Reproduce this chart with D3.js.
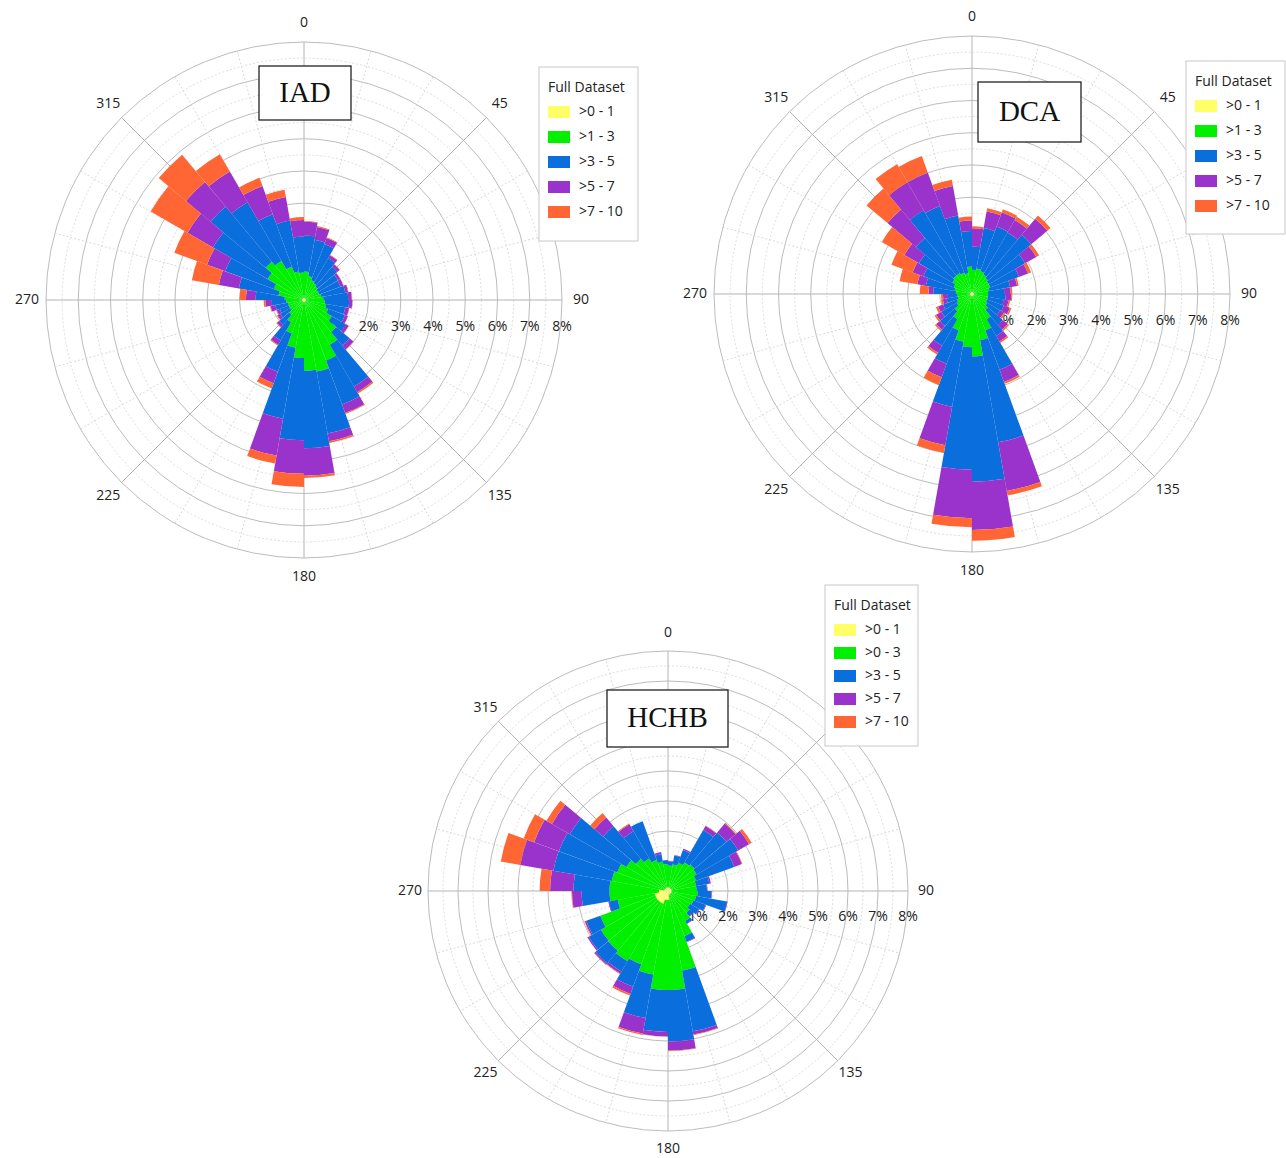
<!DOCTYPE html>
<html>
<head>
<meta charset="utf-8">
<script src="https://cdn.jsdelivr.net/npm/d3@7"></script>
<style>
  body { margin: 0; background: #fff; }
  text { font-family: "Open Sans", "Noto Sans", sans-serif; }
</style>
</head>
<body>
<svg id="chart" width="1286" height="1158"></svg>
<script>
// 36 direction bins of 10 degrees, bin i covers [10*i, 10*i+10]
const directions = d3.range(0, 360, 10);
const speedKeys = ["y", "g", "b", "p", "o"];
const speedColors = ["#FFFF66", "#00F000", "#0A6FDC", "#9933CC", "#FF6633"];
const legendLabels = [">0 - 1", ">1 - 3", ">3 - 5", ">5 - 7", ">7 - 10"];
const legendLabelsHCHB = [">0 - 1", ">0 - 3", ">3 - 5", ">5 - 7", ">7 - 10"];
const pctTicks = [1, 2, 3, 4, 5, 6, 7, 8];
const angleTicks = [0, 45, 90, 135, 180, 225, 270, 315];

// IAD frequencies (%) per speed class
const iadY = Array(36).fill(0.06);
const iadG = [.82,.69,.59,.54,.49,.44,.44,.49,.54,.59,.64,.74,.94,1.24,1.54,1.94,2.19,2.14,
              1.74,1.44,1.04,.74,.54,.44,.44,.44,.49,.54,.74,.94,1.24,1.49,1.34,1.04,.84,.79];
const iadB = [1.12,1.15,1.20,.90,.80,.72,.70,.75,.77,.75,.60,.55,.50,.55,1.50,1.45,1.95,2.40,
              2.55,2.24,1.27,.65,.40,.35,.30,.40,.45,.90,1.25,1.60,1.96,2.23,2.10,1.73,1.60,1.12];
const iadP = [.43,.40,.20,.10,.10,.08,.10,.09,.11,.10,.12,.10,.10,.15,.20,.28,.25,.85,
              1.04,1.16,.38,.15,.10,.10,.10,.15,.20,.30,.63,.60,.91,1.00,1.10,.93,.74,.51];
const iadO = [.02,.03,.02,.02,.01,.01,.01,.01,.01,.01,.01,.01,.01,.02,.05,.03,.05,.07,
              .41,.25,.17,.03,.02,.02,.02,.02,.05,.20,.85,1.08,1.32,1.10,.62,.27,.23,.09];

// DCA
const dcaY = Array(36).fill(0.06);
const dcaG = [.69,.74,.69,.64,.59,.54,.54,.49,.44,.44,.44,.44,.49,.59,.84,1.14,1.39,1.88,
              1.59,1.44,1.14,.84,.64,.49,.44,.39,.39,.44,.49,.54,.64,.69,.69,.64,.59,.79];
const dcaB = [.72,1.28,1.48,1.50,1.75,1.30,.95,.65,.50,.55,.50,.55,.45,.60,.60,1.30,3.22,3.88,
              3.80,2.05,1.10,.95,.60,.55,.45,.35,.30,.70,.90,1.00,1.20,1.52,2.25,2.20,1.82,1.10];
const dcaP = [.57,.52,.47,.45,.65,.40,.30,.22,.20,.17,.15,.20,.15,.20,.20,.40,1.53,1.50,
              1.50,1.21,.45,.25,.15,.18,.17,.12,.15,.15,.27,.36,.52,1.15,1.00,1.10,.93,.33];
const dcaO = [.06,.10,.10,.12,.13,.10,.10,.05,.05,.03,.05,.05,.05,.05,.05,.06,.14,.33,
              .28,.24,.25,.07,.05,.06,.07,.06,.06,.27,.56,.70,.81,.85,.65,.55,.20,.12];

// HCHB
const hchbY = [.12,.12,.12,.12,.12,.12,.12,.12,.12,.12,.12,.12,.12,.12,.12,.12,.12,.30,
               .30,.30,.45,.45,.45,.45,.45,.45,.30,.30,.12,.12,.12,.12,.12,.12,.12,.12];
const hchbG = [.73,.78,.88,.98,1.03,.98,.88,.83,.83,.88,.83,.78,.73,.83,1.03,1.48,2.58,3.00,
               3.00,2.53,2.15,2.25,2.15,2.13,1.95,1.25,1.65,1.65,1.78,1.68,1.48,1.28,1.13,.98,.88,.78];
const hchbB = [.13,.30,.45,1.25,1.40,1.60,1.35,.45,.35,.45,1.05,.44,.35,.15,.10,.20,2.05,1.72,
               1.40,1.47,.80,.40,.55,.47,.50,.30,.93,1.20,1.98,2.07,2.18,1.42,1.05,1.37,.25,.13];
const hchbP = [.02,.02,.05,.15,.39,.42,.27,.05,.02,.02,.02,.02,.02,.02,.02,.02,.11,.30,
               .15,.52,.25,.08,.05,.05,.05,.02,.32,.78,1.12,.88,.69,.38,.27,0,.07,0];
const hchbO = [0,0,0,.02,.03,.10,.02,0,0,0,0,0,0,0,0,0,.02,.02,
               .01,.05,.06,.02,.02,0,.02,0,.02,.35,.66,.37,.21,.19,.03,0,0,0];

const svg = d3.select("#chart");

function buildRows(y, g, b, p, o) {
  return directions.map(function(d, i) {
    return { dir: d, y: y[i], g: g[i], b: b[i], p: p[i], o: o[i] };
  });
}

const charts = [
  { name: "IAD", cx: 304, cy: 300, R: 258, labelR: 277, tickDy: 27,
    rows: buildRows(iadY, iadG, iadB, iadP, iadO), legendText: legendLabels,
    box: { x: 259, y: 66, w: 92, h: 54 },
    legend: { x: 539, y: 67, w: 99, h: 174, row: 25 } },
  { name: "DCA", cx: 972, cy: 294, R: 258, labelR: 277, tickDy: 27,
    rows: buildRows(dcaY, dcaG, dcaB, dcaP, dcaO), legendText: legendLabels,
    box: { x: 978, y: 82, w: 103, h: 60 },
    legend: { x: 1186, y: 61, w: 99, h: 173, row: 25 } },
  { name: "HCHB", cx: 668, cy: 891, R: 240, labelR: 258, tickDy: 26,
    rows: buildRows(hchbY, hchbG, hchbB, hchbP, hchbO), legendText: legendLabelsHCHB,
    box: { x: 607, y: 690, w: 121, h: 57 },
    legend: { x: 825, y: 585, w: 93, h: 161, row: 23 } }
];

const stack = d3.stack().keys(speedKeys);
const toRad = Math.PI / 180;

charts.forEach(function(c) {
  const g = svg.append("g").attr("transform", "translate(" + c.cx + "," + c.cy + ")");
  const r = d3.scaleLinear().domain([0, 8]).range([0, c.R]);

  // rings: solid at whole percents, dotted at halves
  g.selectAll("circle.ring")
    .data(d3.range(1, 17).map(function(k) { return k / 2; }))
    .enter().append("circle")
    .attr("r", function(d) { return r(d); })
    .attr("fill", "none")
    .attr("stroke", function(d) { return d % 1 === 0 ? "#bcbcbc" : "#dedede"; })
    .attr("stroke-dasharray", function(d) { return d % 1 === 0 ? null : "2,2"; })
    .attr("stroke-width", 1);

  // spokes every 15 degrees
  g.selectAll("line.spoke")
    .data(d3.range(0, 360, 15))
    .enter().append("line")
    .attr("x1", 0).attr("y1", 0)
    .attr("x2", function(d) { return Math.sin(d * toRad) * c.R; })
    .attr("y2", function(d) { return -Math.cos(d * toRad) * c.R; })
    .attr("stroke", function(d) { return d % 45 === 0 ? "#b4b4b4" : "#dadada"; })
    .attr("stroke-dasharray", function(d) { return d % 45 === 0 ? null : "2,2"; })
    .attr("stroke-width", 1);

  // percent labels (drawn before bars, bars cover the 1%)
  g.selectAll("text.pct")
    .data(pctTicks)
    .enter().append("text")
    .attr("x", function(d) { return r(d); })
    .attr("y", c.tickDy)
    .attr("text-anchor", "middle")
    .attr("dominant-baseline", "middle")
    .style("font-size", "14px")
    .style("fill", "#222")
    .text(function(d) { return d + "%"; });

  // stacked wedges
  const series = stack(c.rows);
  const arc = d3.arc()
    .innerRadius(function(d) { return r(d[0]); })
    .outerRadius(function(d) { return r(d[1]); })
    .startAngle(function(d) { return d.data.dir * toRad; })
    .endAngle(function(d) { return (d.data.dir + 10) * toRad; });

  g.selectAll("g.layer")
    .data(series)
    .enter().append("g")
    .attr("fill", function(d, i) { return speedColors[i]; })
    .selectAll("path")
    .data(function(d) { return d.filter(function(e) { return e[1] - e[0] > 0; }); })
    .enter().append("path")
    .attr("d", arc);

  // direction labels
  g.selectAll("text.ang")
    .data(angleTicks)
    .enter().append("text")
    .attr("x", function(d) { return Math.sin(d * toRad) * c.labelR; })
    .attr("y", function(d) { return -Math.cos(d * toRad) * c.labelR; })
    .attr("text-anchor", "middle")
    .attr("dominant-baseline", "middle")
    .style("font-size", "14px")
    .style("fill", "#222")
    .text(function(d) { return d; });

  // title box
  svg.append("rect")
    .attr("x", c.box.x).attr("y", c.box.y)
    .attr("width", c.box.w).attr("height", c.box.h)
    .attr("fill", "#fff").attr("stroke", "#222").attr("stroke-width", 1.3);
  svg.append("text")
    .attr("x", c.box.x + c.box.w / 2).attr("y", c.box.y + c.box.h / 2 + 2)
    .attr("text-anchor", "middle").attr("dominant-baseline", "middle")
    .style("font-family", "'Liberation Serif', 'DejaVu Serif', serif")
    .style("font-size", "29px").style("fill", "#111")
    .text(c.name);

  // legend
  const L = c.legend;
  const lg = svg.append("g").attr("transform", "translate(" + L.x + "," + L.y + ")");
  lg.append("rect")
    .attr("width", L.w).attr("height", L.h)
    .attr("fill", "#fff").attr("stroke", "#c8c8c8");
  lg.append("text")
    .attr("x", 9).attr("y", 21)
    .attr("dominant-baseline", "middle")
    .style("font-size", "14px").style("fill", "#222")
    .text("Full Dataset");
  const items = lg.selectAll("g.item")
    .data(c.legendText)
    .enter().append("g")
    .attr("transform", function(d, i) { return "translate(9," + (45 + i * L.row) + ")"; });
  items.append("rect")
    .attr("x", 0).attr("y", -6).attr("width", 22).attr("height", 12)
    .attr("fill", function(d, i) { return speedColors[i]; });
  items.append("text")
    .attr("x", 31).attr("y", 0)
    .attr("dominant-baseline", "middle")
    .style("font-size", "14px").style("fill", "#222")
    .text(function(d) { return d; });
});
</script>
</body>
</html>
